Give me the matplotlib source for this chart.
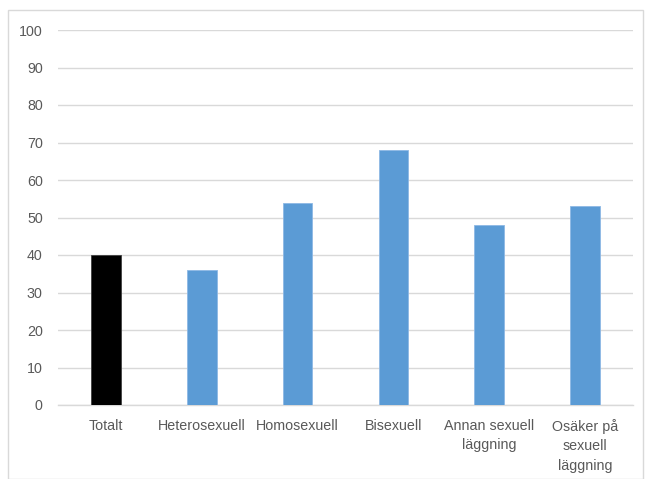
import matplotlib
matplotlib.use("Agg")
import matplotlib.pyplot as plt
from matplotlib.patches import Rectangle
import numpy as np

categories = ["Totalt", "Heterosexuell", "Homosexuell", "Bisexuell",
              "Annan sexuell\nläggning", "Osäker på\nsexuell\nläggning"]
values = [40, 36, 54, 68, 48, 53]
colors = ["#000000", "#5B9BD5", "#5B9BD5", "#5B9BD5", "#5B9BD5", "#5B9BD5"]
yticks = list(range(0, 101, 10))

plt.rcParams['font.family'] = ['Liberation Sans', 'DejaVu Sans']

fig = plt.figure(figsize=(6.5, 4.79), dpi=100)
ax = fig.add_axes([58/650, 1-405/479, 575/650, 375/479])

x = np.arange(len(categories))
ax.bar(x, values, width=0.31, color=colors, edgecolor=["#404040"] + ["#8DB8E5"]*5,
       linewidth=0.6, zorder=3)

ax.set_xlim(-0.5, len(categories) - 0.5)
ax.set_ylim(0, 100)
ax.set_yticks(yticks)
ax.set_xticks(x)
ax.set_xticklabels(categories, fontsize=10.3, color="#595959", linespacing=1.5)
ax.tick_params(axis='y', labelsize=10.3, labelcolor="#595959", length=0, pad=11)
ax.tick_params(axis='x', length=0, pad=10)
ax.grid(axis='y', color="#D9D9D9", linewidth=1, zorder=0)
for s in ["top", "right", "left"]:
    ax.spines[s].set_visible(False)
ax.spines["bottom"].set_color("#D9D9D9")
ax.spines["bottom"].set_linewidth(1)

fig.patches.append(Rectangle((8/650, 0), 635/650, 1-10/479, transform=fig.transFigure,
                             fill=False, edgecolor="#D9D9D9", linewidth=1))

fig.savefig("out.png", dpi=100)
